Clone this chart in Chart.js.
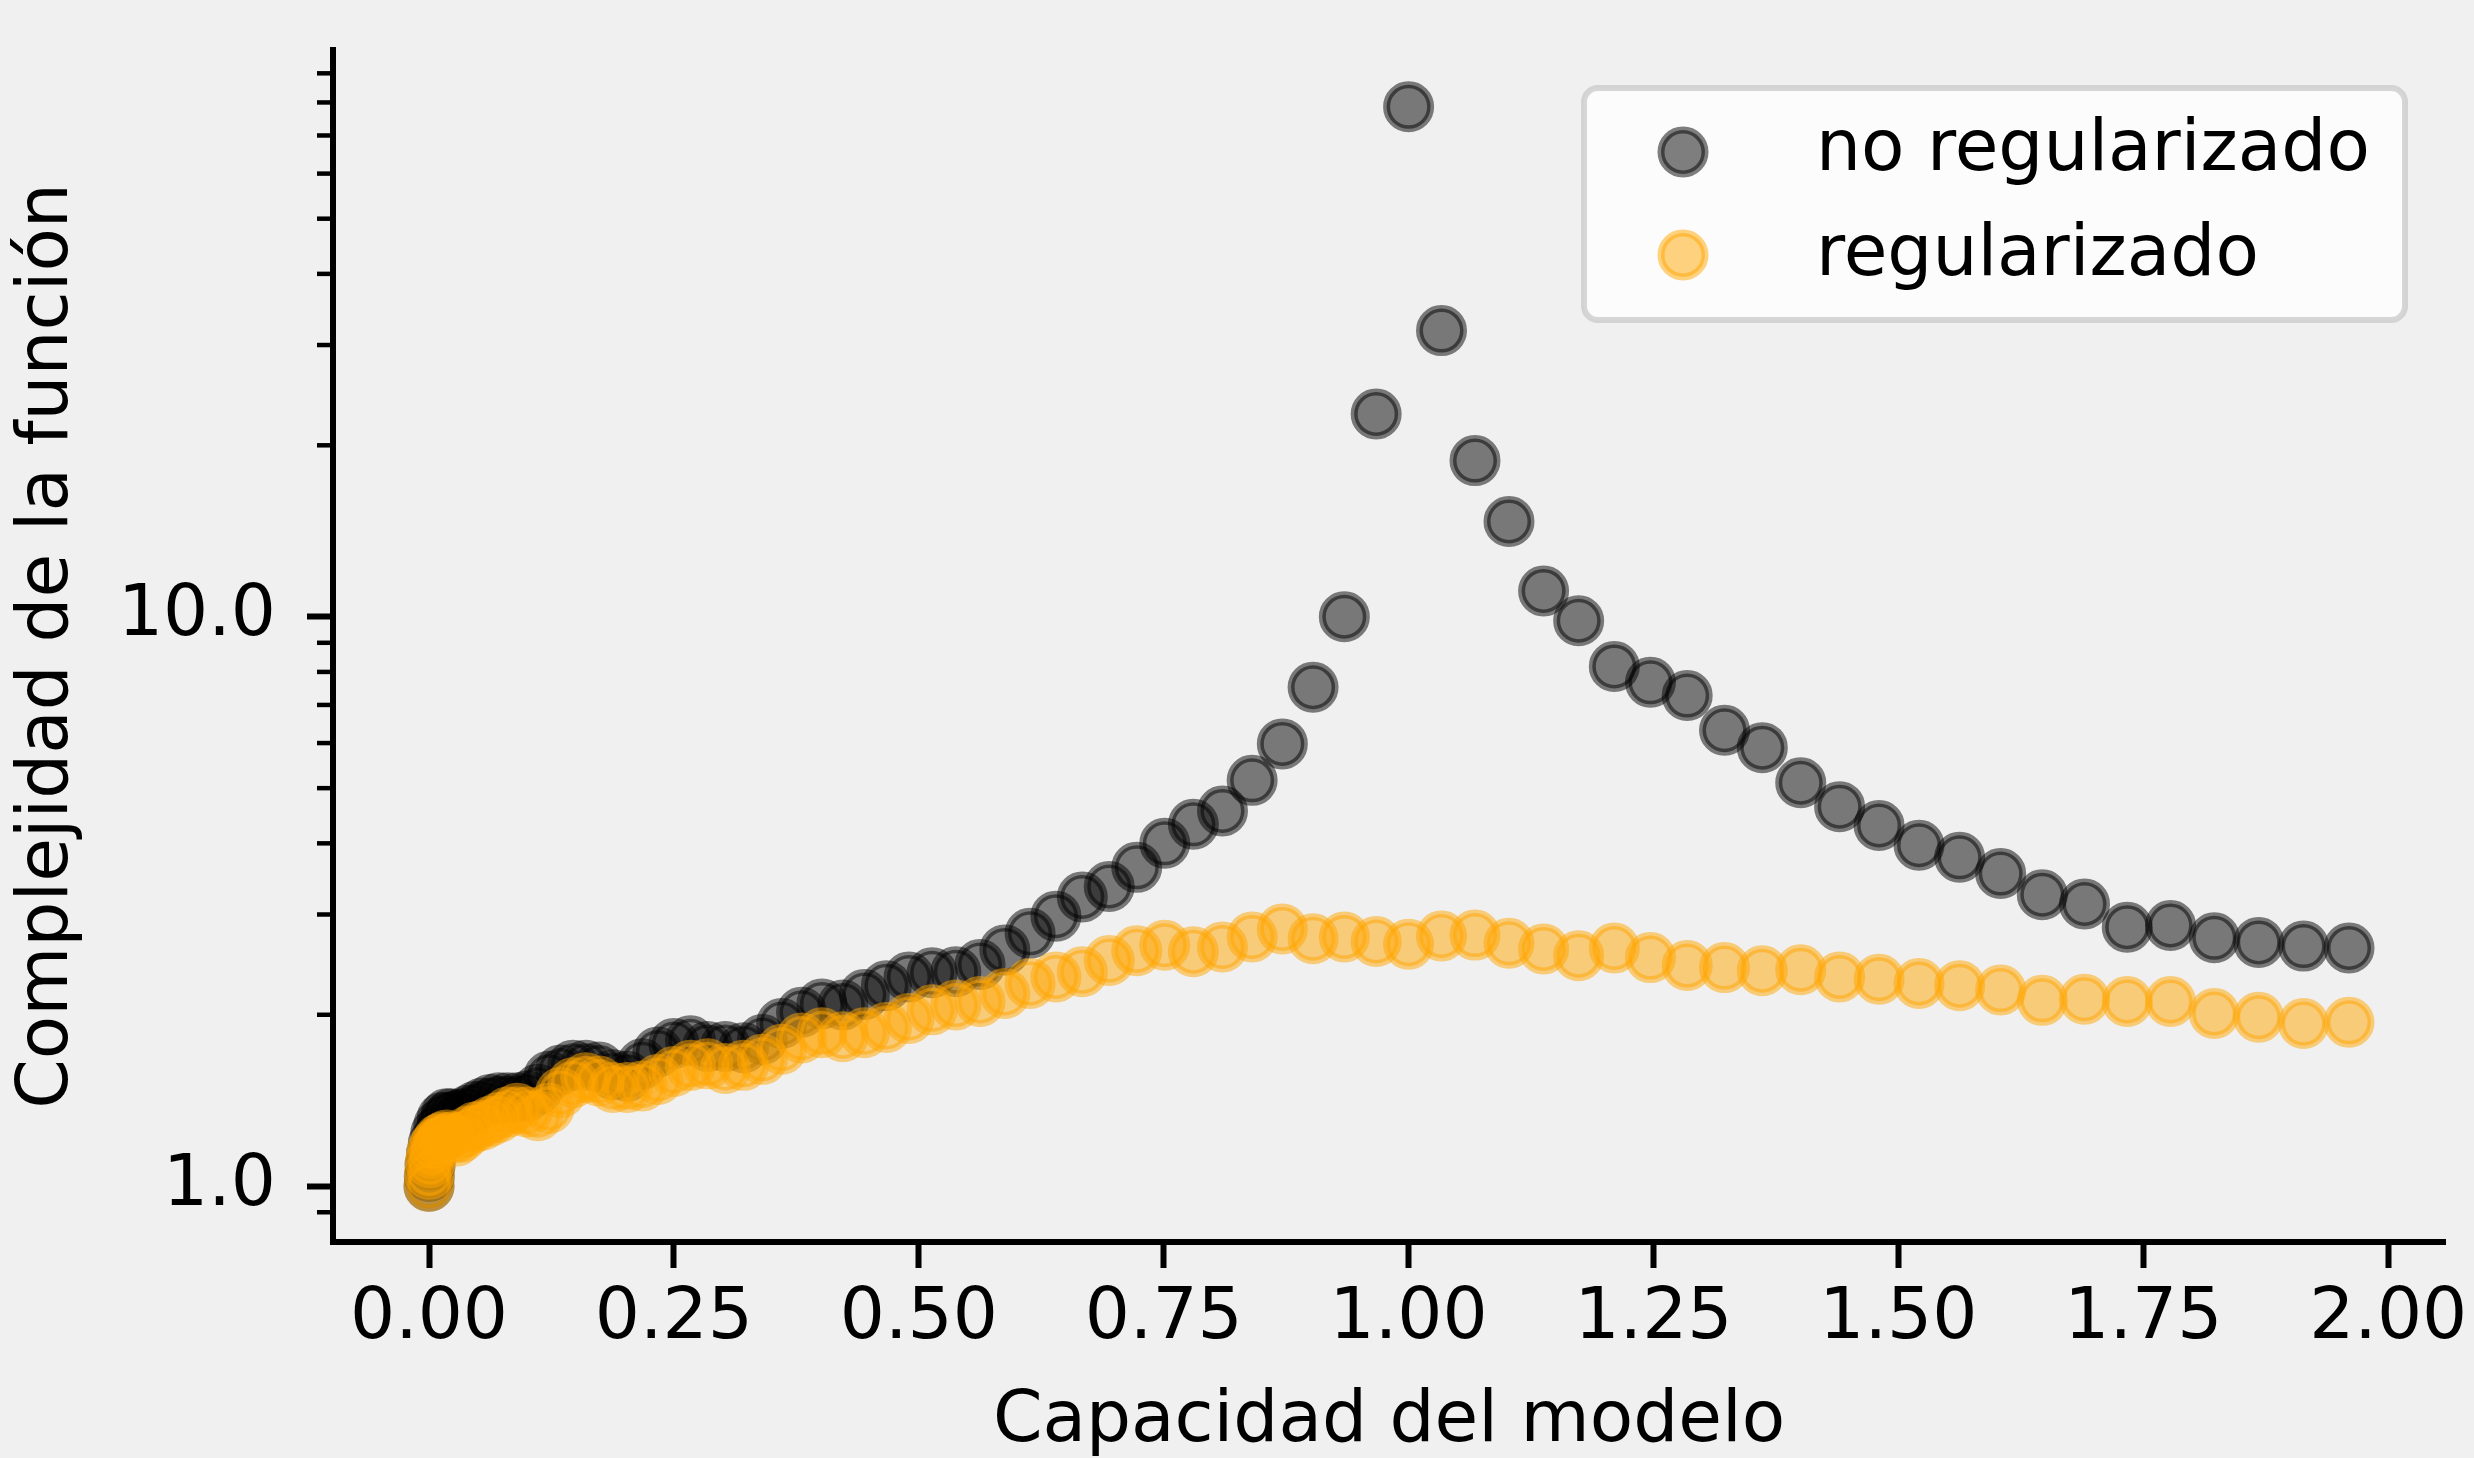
<!DOCTYPE html>
<html>
<head>
<meta charset="utf-8">
<script src="https://cdn.jsdelivr.net/npm/chart.js@4.4.1/dist/chart.umd.min.js"></script>
<style>
html,body{margin:0;padding:0;background:#f0f0f0;}
canvas{display:block;}
</style>
</head>
<body>
<canvas id="c" width="2474" height="1458"></canvas>
<script>
// ---- data ----
const capacity = [
  0.0000, 0.0003, 0.0011, 0.0025, 0.0044, 0.0069, 0.0100, 0.0136, 0.0178, 0.0225,
  0.0278, 0.0336, 0.0400, 0.0469, 0.0544, 0.0625, 0.0711, 0.0803, 0.0900, 0.1003,
  0.1111, 0.1225, 0.1344, 0.1469, 0.1600, 0.1736, 0.1878, 0.2025, 0.2178, 0.2336,
  0.2500, 0.2669, 0.2844, 0.3025, 0.3211, 0.3403, 0.3600, 0.3803, 0.4011, 0.4225,
  0.4444, 0.4669, 0.4900, 0.5136, 0.5378, 0.5625, 0.5878, 0.6136, 0.6400, 0.6669,
  0.6944, 0.7225, 0.7511, 0.7803, 0.8100, 0.8403, 0.8711, 0.9025, 0.9344, 0.9669,
  1.0000, 1.0336, 1.0678, 1.1025, 1.1378, 1.1736, 1.2100, 1.2469, 1.2844, 1.3225,
  1.3611, 1.4003, 1.4400, 1.4803, 1.5211, 1.5625, 1.6044, 1.6469, 1.6900, 1.7336,
  1.7778, 1.8225, 1.8678, 1.9136, 1.9600
];
const noRegularizado = [
  1.00, 1.04, 1.09, 1.14, 1.19, 1.24, 1.28, 1.32, 1.34, 1.34,
  1.33, 1.34, 1.36, 1.38, 1.40, 1.42, 1.43, 1.43, 1.43, 1.44,
  1.48, 1.56, 1.60, 1.63, 1.63, 1.62, 1.57, 1.56, 1.64, 1.72,
  1.78, 1.80, 1.76, 1.76, 1.75, 1.81, 1.93, 2.02, 2.09, 2.08,
  2.17, 2.25, 2.33, 2.37, 2.38, 2.45, 2.60, 2.78, 2.98, 3.22,
  3.36, 3.63, 4.00, 4.32, 4.56, 5.16, 5.98, 7.52, 10.0, 22.7,
  78.6, 31.8, 18.8, 14.7, 11.1, 9.84, 8.18, 7.67, 7.27, 6.32,
  5.89, 5.11, 4.64, 4.30, 3.97, 3.78, 3.54, 3.25, 3.13, 2.85,
  2.87, 2.73, 2.68, 2.64, 2.62
];
const regularizado = [
  1.00, 1.05, 1.10, 1.14, 1.17, 1.19, 1.21, 1.22, 1.23, 1.22,
  1.20, 1.22, 1.25, 1.27, 1.28, 1.30, 1.32, 1.35, 1.37, 1.35,
  1.33, 1.37, 1.46, 1.52, 1.55, 1.53, 1.49, 1.49, 1.50, 1.54,
  1.59, 1.63, 1.64, 1.61, 1.63, 1.67, 1.74, 1.82, 1.86, 1.83,
  1.86, 1.90, 1.97, 2.04, 2.08, 2.11, 2.18, 2.27, 2.33, 2.38,
  2.49, 2.59, 2.65, 2.58, 2.63, 2.74, 2.83, 2.72, 2.74, 2.69,
  2.66, 2.75, 2.76, 2.67, 2.61, 2.54, 2.62, 2.52, 2.44, 2.42,
  2.39, 2.40, 2.33, 2.31, 2.27, 2.25, 2.21, 2.12, 2.13, 2.11,
  2.11, 2.01, 1.98, 1.93, 1.94
];
const seriesNames = ['no regularizado', 'regularizado'];
const xTickValues = [0, 0.25, 0.5, 0.75, 1, 1.25, 1.5, 1.75, 2];
const xTickLabels = ['0.00', '0.25', '0.50', '0.75', '1.00', '1.25', '1.50', '1.75', '2.00'];
const yTickValues = [1, 10];
const yTickLabels = ['1.0', '10.0'];
const yMinorTickValues = [0.9, 2, 3, 4, 5, 6, 7, 8, 9, 20, 30, 40, 50, 60, 70, 80, 90];
const xTitle = 'Capacidad del modelo';
const yTitle = 'Complejidad de la función';

// ---- styling ----
const FONT = "'DejaVu Sans', 'Liberation Sans', sans-serif";
const FS = 71;
const BLACK_A = 'rgba(0,0,0,0.5)';
const ORANGE_A = 'rgba(255,165,0,0.5)';
const R = 22, BW = 7;

Chart.defaults.font.family = FONT;
Chart.defaults.color = '#000';

const ptsBlack = capacity.map((x, i) => ({x: x, y: noRegularizado[i]}));
const ptsOrange = capacity.map((x, i) => ({x: x, y: regularizado[i]}));

function noScalePadding(s) {
  s.paddingTop = 0; s.paddingBottom = 0; s.paddingLeft = 0; s.paddingRight = 0;
}

const minorTicksPlugin = {
  id: 'minorTicks',
  afterDraw(chart) {
    const s = chart.scales.y;
    const ctx = chart.ctx;
    const xr = s.right - 3;
    ctx.save();
    ctx.strokeStyle = '#000';
    ctx.lineWidth = 4.5;
    yMinorTickValues.forEach(v => {
      const p = s.getPixelForValue(v);
      if (p < s.top - 1 || p > s.bottom + 1) return;
      ctx.beginPath();
      ctx.moveTo(xr - 13, p);
      ctx.lineTo(xr, p);
      ctx.stroke();
    });
    ctx.restore();
  }
};

const legendPlugin = {
  id: 'boxLegend',
  afterDraw(chart) {
    const ctx = chart.ctx;
    const x0 = 1584, y0 = 88, x1 = 2405, y1 = 320, rad = 14;
    ctx.save();
    ctx.beginPath();
    ctx.moveTo(x0 + rad, y0);
    ctx.lineTo(x1 - rad, y0);
    ctx.arcTo(x1, y0, x1, y0 + rad, rad);
    ctx.lineTo(x1, y1 - rad);
    ctx.arcTo(x1, y1, x1 - rad, y1, rad);
    ctx.lineTo(x0 + rad, y1);
    ctx.arcTo(x0, y1, x0, y1 - rad, rad);
    ctx.lineTo(x0, y0 + rad);
    ctx.arcTo(x0, y0, x0 + rad, y0, rad);
    ctx.closePath();
    ctx.fillStyle = 'rgba(255,255,255,0.8)';
    ctx.fill();
    ctx.lineWidth = 6;
    ctx.strokeStyle = 'rgba(204,204,204,0.8)';
    ctx.stroke();
    const rows = [
      {cy: 152, base: 170, ds: chart.data.datasets[0]},
      {cy: 255, base: 275, ds: chart.data.datasets[1]}
    ];
    rows.forEach(r => {
      ctx.beginPath();
      ctx.arc(1683, r.cy, R, 0, Math.PI * 2);
      ctx.fillStyle = r.ds.backgroundColor;
      ctx.fill();
      ctx.lineWidth = BW;
      ctx.strokeStyle = r.ds.borderColor;
      ctx.stroke();
      ctx.fillStyle = '#000';
      ctx.font = FS + 'px ' + FONT;
      ctx.textAlign = 'left';
      ctx.textBaseline = 'alphabetic';
      ctx.fillText(r.ds.label, 1816, r.base);
    });
    ctx.restore();
  }
};

new Chart(document.getElementById('c'), {
  type: 'scatter',
  data: {
    datasets: [
      {label: seriesNames[0], data: ptsBlack, backgroundColor: BLACK_A, borderColor: BLACK_A,
       pointRadius: R, pointBorderWidth: BW, pointHoverRadius: R, order: 1},
      {label: seriesNames[1], data: ptsOrange, backgroundColor: ORANGE_A, borderColor: ORANGE_A,
       pointRadius: R, pointBorderWidth: BW, pointHoverRadius: R, order: 0}
    ]
  },
  options: {
    responsive: false,
    animation: false,
    events: [],
    devicePixelRatio: 1,
    layout: {padding: {top: 50, right: 29, left: 0, bottom: 0}},
    plugins: {legend: {display: false}, tooltip: {enabled: false}},
    scales: {
      x: {
        type: 'linear',
        min: -0.098, max: 2.058,
        afterBuildTicks: (s) => { s.ticks = xTickValues.map(v => ({value: v})); },
        afterFit: (s) => { s.height = 216; noScalePadding(s); },
        grid: {drawOnChartArea: false, drawTicks: true, tickLength: 26, tickWidth: 6, tickColor: '#000'},
        border: {display: true, color: '#000', width: 6},
        ticks: {
          autoSkip: false, maxRotation: 0, padding: 9, color: '#000',
          font: {size: FS, family: FONT},
          callback: (v) => { const i = xTickValues.indexOf(v); return i >= 0 ? xTickLabels[i] : ''; }
        },
        title: {display: true, text: xTitle, color: '#000', font: {size: FS, family: FONT, lineHeight: 1}, padding: {top: 0, bottom: 0}}
      },
      y: {
        type: 'logarithmic',
        min: 0.798, max: 98.9,
        afterBuildTicks: (s) => {
          const all = yMinorTickValues.concat(yTickValues).sort((a, b) => a - b);
          s.ticks = all.map(v => ({value: v, major: yTickValues.includes(v)}));
        },
        afterFit: (s) => { s.width = 333; noScalePadding(s); },
        grid: {
          drawOnChartArea: false, drawTicks: true, tickLength: 26, tickWidth: 6,
          tickColor: (c) => (c.tick && yTickValues.includes(c.tick.value)) ? '#000' : 'rgba(0,0,0,0)'
        },
        border: {display: true, color: '#000', width: 6},
        ticks: {
          autoSkip: false, padding: 31, color: '#000',
          font: {size: FS, family: FONT},
          callback: (v) => { const i = yTickValues.indexOf(v); return i >= 0 ? yTickLabels[i] : ''; }
        },
        title: {display: true, text: yTitle, color: '#000', font: {size: FS, family: FONT, lineHeight: 1}, padding: {top: 13, bottom: 0}}
      }
    }
  },
  plugins: [minorTicksPlugin, legendPlugin]
});
</script>
</body>
</html>
